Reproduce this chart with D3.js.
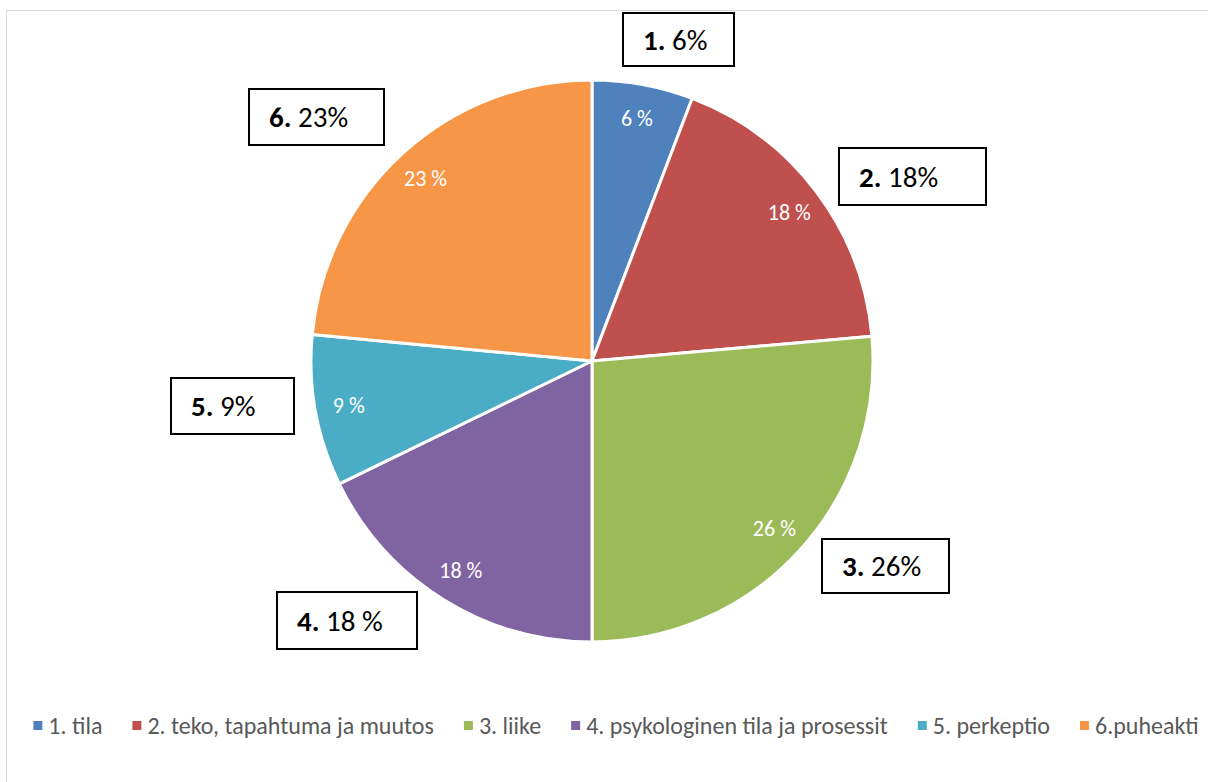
<!DOCTYPE html>
<html lang="fi">
<head>
<meta charset="utf-8">
<script src="https://d3js.org/d3.v7.min.js"></script>
<style>
  body { margin: 0; padding: 0; background: #fff; }
  svg { display: block; font-family: Carlito, Calibri, Lato, "Open Sans", sans-serif; }
</style>
</head>
<body>
<svg id="chart" width="1208" height="782"></svg>
<script>
// data
const categories = ["1. tila", "2. teko, tapahtuma ja muutos", "3. liike",
  "4. psykologinen tila ja prosessit", "5. perkeptio", "6.puheakti"];
const values = [5.8, 17.8, 26.4, 17.8, 8.7, 23.5];
const sliceLabels = ["6 %", "18 %", "26 %", "18 %", "9 %", "23 %"];
const calloutNums = ["1.", "2.", "3.", "4.", "5.", "6."];
const calloutTexts = ["6%", "18%", "26%", "18 %", "9%", "23%"];
const colors = ["#4F81BD", "#C0504D", "#9BBB59", "#8064A2", "#4BACC6", "#F79646"];

// callout boxes, relative to pie centre: [left, top, width, height]
const calloutBoxes = [
  [31, -348, 111, 53], [247, -213, 147, 57], [230, 178, 127, 54],
  [-315, 231, 140, 57], [-421, 17, 123, 56], [-343, -272, 135, 56]
];

const svg = d3.select("#chart"),
  width = +svg.attr("width"),
  height = +svg.attr("height");

// chart area border
svg.append("rect")
  .attr("x", 6.5).attr("y", 10.5)
  .attr("width", width + 20).attr("height", height + 20)
  .attr("fill", "none").attr("stroke", "#d9d9d9").attr("stroke-width", 1);

const cx = 592, cy = 361, radius = 281;

const pie = d3.pie().sort(null).value(d => d);
const arcs = pie(values);
const arc = d3.arc().innerRadius(0).outerRadius(radius);
const labelArc = d3.arc().innerRadius(radius * 0.88).outerRadius(radius * 0.88);

const g = svg.append("g").attr("transform", `translate(${cx},${cy})`);

g.selectAll("path.slice")
  .data(arcs)
  .enter()
  .append("path")
  .attr("class", "slice")
  .attr("d", arc)
  .attr("fill", (d, i) => colors[i])
  .attr("stroke", "#fff")
  .attr("stroke-width", 3)
  .attr("stroke-linejoin", "round");

g.selectAll("text.inlabel")
  .data(arcs)
  .enter()
  .append("text")
  .attr("class", "inlabel")
  .attr("transform", d => `translate(${labelArc.centroid(d)})`)
  .attr("text-anchor", "middle")
  .attr("dy", "0.35em")
  .attr("fill", "#fff")
  .style("font-size", "22px")
  .text((d, i) => sliceLabels[i]);

// callouts
const callouts = g.selectAll("g.callout")
  .data(calloutBoxes)
  .enter()
  .append("g")
  .attr("class", "callout");

callouts.append("rect")
  .attr("x", d => d[0]).attr("y", d => d[1])
  .attr("width", d => d[2]).attr("height", d => d[3])
  .attr("fill", "#fff").attr("stroke", "#000").attr("stroke-width", 2);

const ct = callouts.append("text")
  .attr("x", d => d[0] + 20)
  .attr("y", d => d[1] + d[3] / 2 + 10)
  .attr("fill", "#000")
  .style("font-size", "29px");
ct.append("tspan").style("font-weight", "bold").text((d, i) => calloutNums[i]);
ct.append("tspan").text((d, i) => " " + calloutTexts[i]);

// legend
const legend = svg.append("g").attr("class", "legend");
const items = legend.selectAll("g")
  .data(categories)
  .enter()
  .append("g");
items.append("rect")
  .attr("width", 9).attr("height", 9)
  .attr("y", -5)
  .attr("fill", (d, i) => colors[i]);
items.append("text")
  .attr("x", 15)
  .attr("dy", "0.35em")
  .attr("fill", "#595959")
  .style("font-size", "24px")
  .text(d => d);

let xPos = 0;
const gap = 30;
items.each(function () {
  const w = 15 + d3.select(this).select("text").node().getComputedTextLength();
  d3.select(this).attr("transform", `translate(${xPos},0)`);
  xPos += w + gap;
});
const total = xPos - gap;
legend.attr("transform", `translate(${616 - total / 2},726)`);
</script>
</body>
</html>
